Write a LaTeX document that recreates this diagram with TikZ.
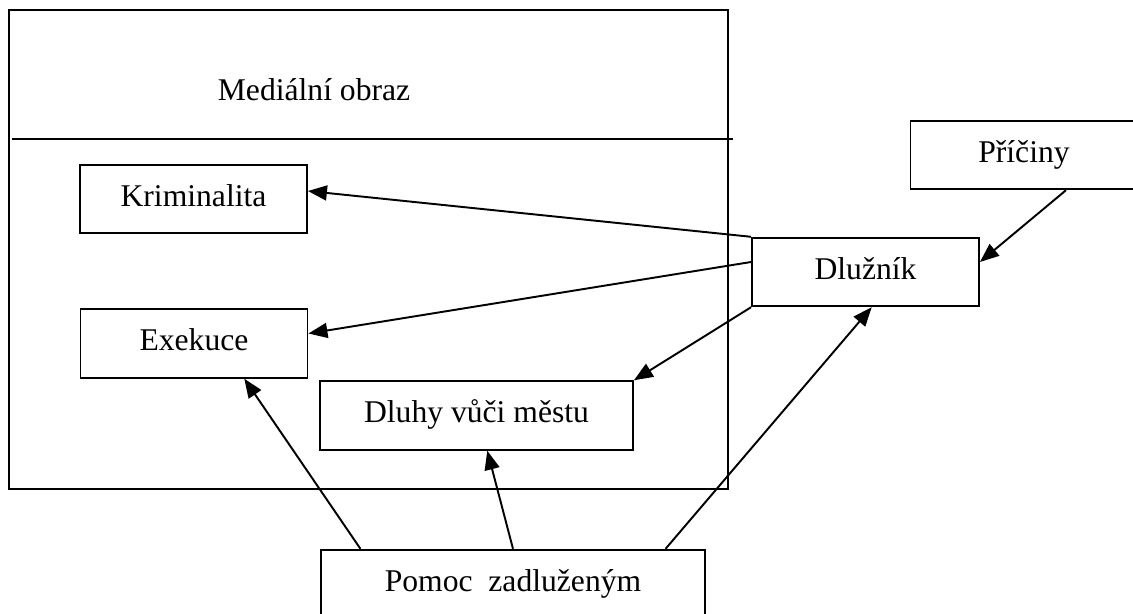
\documentclass[tikz,border=0pt]{standalone}
\usepackage{fontspec}
\setmainfont{Liberation Serif}
\usetikzlibrary{arrows.meta}

\tikzset{
  box/.style={draw,line width=1.1pt,minimum width=4.54cm,minimum height=1.37cm,
    inner sep=0pt,text height=12.6pt,text depth=4.5pt,font=\fontsize{18}{21.6}\selectfont},
  arr/.style={-{Triangle[length=3.8mm,width=3mm]},line width=1.1pt}
}

\begin{document}
\begin{tikzpicture}[x=0.02cm,y=-0.02cm]
                \useasboundingbox (0,0) rectangle (1133,613);
                % outer frame
                \draw [line width=1.1pt] (9,10) rectangle (728,489);
                \draw [line width=1.1pt] (12,139) -- (733,139);
                \node [font=\fontsize{18}{21.6}\selectfont] (media) at (314,90) {Mediální obraz};
                % boxes
                \node [box] (krim) at (193.5,199) {Kriminalita};
                \node [box] (exek) at (194,343.5) {Exekuce};
                \node [box,minimum width=6.26cm] (dluhy) at (476.5,415.5) {Dluhy vůči městu};
                \node [box] (dluznik) at (865.5,272) {Dlužník};
                \node [box] (priciny) at (1024,155) {Příčiny};
                \node [box,minimum width=7.68cm] (pomoc) at (513,584) {Pomoc\ \ zadluženým};
                % arrows
                \draw [arr] (dluznik.north west) -- (krim.4);
                \draw [arr] (dluznik.175) -- (exek.5);
                \draw [arr] (dluznik.south west) -- (dluhy.north east);
                \draw [arr] (priciny.-40) -- (dluznik.5);
                \draw [arr] (pomoc.167) -- (exek.-35);
                \draw [arr] (pomoc.north) -- (dluhy.-73);
                \draw [arr] (pomoc.13) -- (dluznik.-80);
\end{tikzpicture}
\end{document}
